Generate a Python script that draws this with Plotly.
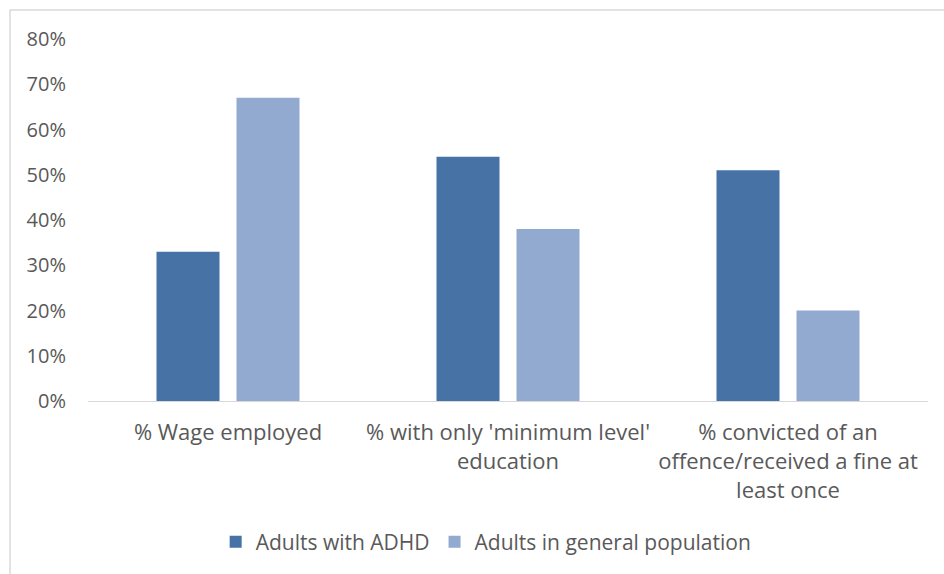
import plotly.graph_objects as go

categories = ["% Wage employed",
              "% with only 'minimum level'<br>education",
              "% convicted of an<br>offence/received a fine at<br>least once"]
adhd = [0.33, 0.54, 0.51]
general = [0.67, 0.38, 0.20]
series_names = ["Adults with ADHD", "Adults in general population"]
y_ticks = [0, 0.1, 0.2, 0.3, 0.4, 0.5, 0.6, 0.7, 0.8]

FONT = "Open Sans"
GREY = "#595959"

fig = go.Figure()
fig.add_trace(go.Bar(x=categories, y=adhd, name=series_names[0],
                     marker=dict(color="#4672A6", line=dict(width=0))))
fig.add_trace(go.Bar(x=categories, y=general, name=series_names[1],
                     marker=dict(color="#92A9D0", line=dict(width=0))))

fig.update_layout(
    width=944, height=574,
    margin=dict(l=88, r=16, t=39, b=173, pad=0),
    paper_bgcolor="white", plot_bgcolor="white",
    barmode="group", bargap=0.4286, bargroupgap=0.2125,
    font=dict(family=FONT, color=GREY, size=20),
    legend=dict(orientation="h", x=0.474, xanchor="center", y=-0.39, yanchor="middle",
                font=dict(size=21, color=GREY), itemwidth=30, traceorder="normal"),
    xaxis=dict(showgrid=False, showline=True, linecolor="#D9D9D9", linewidth=1,
               ticks="", tickfont=dict(size=22, color=GREY), zeroline=False,
               ticklabelstandoff=12),
    yaxis=dict(range=[0, 0.8], tickvals=y_ticks, tickformat=".0%", showgrid=False,
               zeroline=False, showline=False, ticks="outside", ticklen=17,
               tickcolor="rgba(0,0,0,0)", tickfont=dict(size=20, color=GREY)),
    shapes=[dict(type="rect", xref="paper", yref="paper",
                 x0=(10 - 88) / 840, x1=1.2, y0=-0.7, y1=1 + 29 / 362,
                 line=dict(color="#D9D9D9", width=1.5), fillcolor="rgba(0,0,0,0)", layer="below")],
)

fig.write_html("out.html")
